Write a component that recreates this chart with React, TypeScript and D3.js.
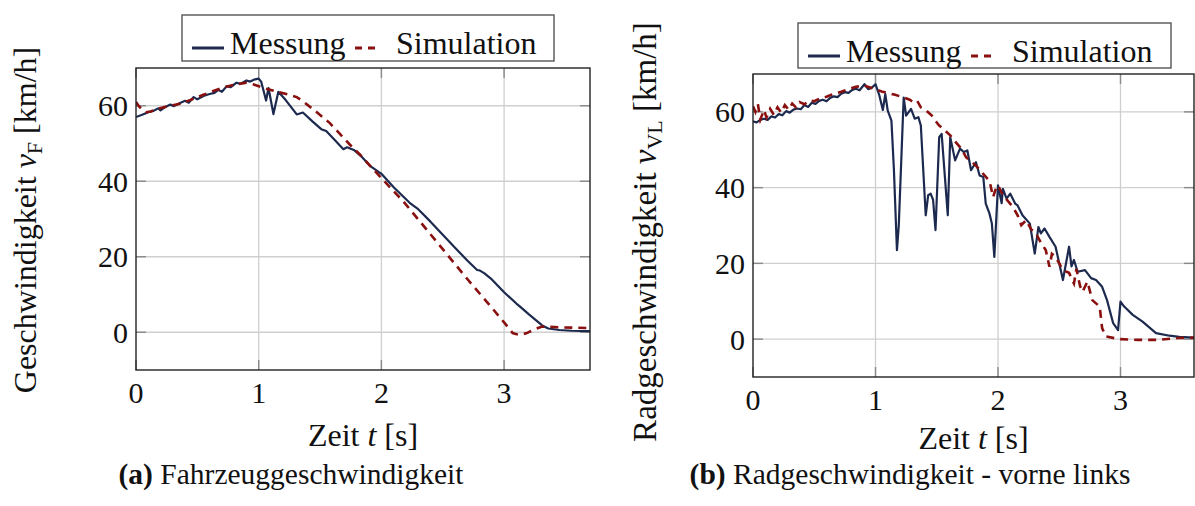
import React from "react";
import * as d3 from "d3";

// ---------- data ----------
const xTicks = [0, 1, 2, 3];
const yTicks = [0, 20, 40, 60];
const legendLabels = ["Messung", "Simulation"];

// (a) Fahrzeuggeschwindigkeit
const tMessA = [0.0,0.05,0.1,0.14,0.18,0.2,0.24,0.28,0.31,0.35,0.4,0.43,0.47,0.5,0.55,0.6,0.64,0.67,0.7,0.74,0.77,0.82,0.85,0.9,0.93,0.97,1.0,1.02,1.06,1.08,1.12,1.16,1.22,1.31,1.36,1.44,1.51,1.55,1.62,1.69,1.72,1.78,1.83,1.91,1.98,2.0,2.1,2.23,2.3,2.4,2.5,2.6,2.7,2.78,2.8,2.84,2.9,3.0,3.1,3.13,3.2,3.31,3.36,3.45,3.55,3.7];
const vMessA = [57.0,57.6,58.3,58.6,59.3,58.8,59.7,60.3,59.9,60.6,61.3,60.8,62.3,61.7,62.6,63.1,63.4,64.2,63.7,65.2,64.9,66.1,65.8,66.7,66.4,67.0,67.2,66.4,61.4,64.7,57.8,63.7,61.5,57.7,58.2,55.8,53.8,53.3,50.9,48.5,49.0,48.2,46.8,44.0,42.4,42.0,38.4,34.3,32.6,29.3,25.8,22.4,19.0,16.5,16.4,15.6,14.0,10.6,7.6,6.8,4.8,1.8,1.0,0.6,0.4,0.3];
const tSimA = [0.0,0.02,0.05,0.08,0.12,0.18,0.25,0.36,0.45,0.55,0.63,0.72,0.8,0.9,0.96,1.05,1.15,1.25,1.31,1.36,1.45,1.58,1.66,1.74,1.83,1.91,2.07,2.18,2.3,2.5,2.7,2.9,3.0,3.07,3.12,3.18,3.25,3.31,3.46,3.7];
const vSimA = [61.0,60.0,59.0,58.3,58.5,59.2,59.8,60.5,61.6,62.9,63.9,64.9,65.6,66.1,65.6,64.6,63.7,62.9,62.3,61.2,58.9,55.4,52.6,49.8,46.9,44.0,38.4,34.6,29.9,22.0,14.1,6.5,2.6,-0.2,-0.7,-0.3,0.8,1.5,1.3,1.1];

// (b) Radgeschwindigkeit vorne links
const tMessB = [0.0,0.03,0.06,0.09,0.12,0.15,0.18,0.21,0.24,0.27,0.3,0.33,0.36,0.39,0.42,0.45,0.48,0.51,0.54,0.57,0.6,0.63,0.66,0.69,0.72,0.75,0.78,0.81,0.84,0.87,0.91,0.94,0.97,1.0,1.03,1.06,1.08,1.1,1.13,1.15,1.175,1.19,1.23,1.25,1.29,1.32,1.35,1.37,1.41,1.43,1.45,1.47,1.49,1.52,1.54,1.59,1.61,1.65,1.69,1.72,1.75,1.78,1.82,1.85,1.88,1.9,1.93,1.95,1.97,2.0,2.03,2.04,2.07,2.1,2.14,2.16,2.2,2.26,2.3,2.33,2.35,2.38,2.42,2.47,2.53,2.58,2.6,2.62,2.65,2.71,2.76,2.8,2.85,2.89,2.94,2.98,3.0,3.03,3.1,3.18,3.29,3.4,3.48,3.6];
const vMessB = [57.5,57.2,57.9,58.2,57.9,58.8,58.5,59.4,59.1,60.2,59.8,60.6,60.9,60.7,61.8,61.3,62.4,62.1,62.9,63.2,62.8,63.7,64.1,63.9,64.8,65.2,65.0,65.8,66.1,65.7,67.3,66.0,66.4,67.3,64.5,60.5,64.7,60.3,57.7,45.0,23.5,30.0,63.8,59.0,60.8,58.2,58.6,56.4,32.7,38.0,38.4,36.8,28.8,53.3,54.2,32.7,53.3,47.2,50.3,49.4,49.8,44.6,46.7,43.2,42.8,35.8,33.2,30.5,21.7,40.6,35.9,39.7,37.1,38.4,35.8,35.3,32.7,30.5,22.6,29.6,27.9,29.2,27.0,24.4,15.6,24.4,19.2,20.9,17.8,18.2,16.1,15.6,13.8,10.3,4.2,2.4,9.9,8.6,6.4,4.6,1.6,0.9,0.6,0.4];
const tSimB = [0.0,0.02,0.04,0.06,0.09,0.11,0.14,0.17,0.2,0.23,0.26,0.29,0.32,0.35,0.38,0.42,0.46,0.5,0.55,0.6,0.66,0.72,0.78,0.84,0.9,0.95,1.0,1.05,1.1,1.16,1.23,1.28,1.31,1.34,1.37,1.41,1.46,1.5,1.52,1.57,1.61,1.66,1.7,1.74,1.78,1.82,1.87,1.91,1.93,1.96,1.98,2.0,2.04,2.08,2.12,2.16,2.19,2.23,2.27,2.31,2.35,2.39,2.42,2.44,2.47,2.53,2.58,2.62,2.64,2.67,2.69,2.73,2.77,2.83,2.85,2.88,2.99,3.15,3.3,3.48,3.6];
const vSimB = [61.5,60.0,62.0,58.0,60.5,58.5,60.8,59.2,61.2,59.8,61.8,60.6,62.2,61.2,62.6,62.0,63.0,62.8,63.6,64.0,64.8,65.3,66.0,66.6,67.0,66.5,66.0,65.4,65.0,64.5,63.8,63.2,62.5,62.9,61.2,60.5,59.0,57.2,56.4,55.0,53.8,51.8,50.3,48.0,47.0,45.8,44.0,42.5,41.9,37.5,39.5,40.6,38.0,36.5,35.0,32.7,30.1,31.4,29.0,27.9,25.5,23.5,19.1,22.5,21.7,18.2,17.5,14.7,18.5,14.0,12.5,15.2,10.3,8.6,2.9,0.7,0.0,-0.2,-0.2,0.3,0.4];

const MESS_COLOR = "#1d2a4f";
const SIM_COLOR = "#8a1010";
const FONT = "Liberation Serif, DejaVu Serif, serif";

type Panel = {
  left: number; top: number; right: number; bottom: number;
  xMax: number;
  tMess: number[]; vMess: number[]; tSim: number[]; vSim: number[];
  legend: { x: number; y: number; w: number; h: number };
  yLabelMain: string; yLabelSub: string; yLabelX: number; yLabelY: number; yLabelSize: number;
  xLabelY: number;
  captionTag: string; captionText: string; captionX: number;
};

const panels: Panel[] = [
  {
    left: 136, top: 68, right: 590, bottom: 370, xMax: 3.7,
    tMess: tMessA, vMess: vMessA, tSim: tSimA, vSim: vSimA,
    legend: { x: 182, y: 15, w: 372, h: 46 },
    yLabelMain: "Geschwindigkeit ", yLabelSub: "F", yLabelX: 36, yLabelY: 220, yLabelSize: 32,
    xLabelY: 446,
    captionTag: "(a)", captionText: " Fahrzeuggeschwindigkeit", captionX: 291,
  },
  {
    left: 753, top: 74, right: 1194, bottom: 377, xMax: 3.6,
    tMess: tMessB, vMess: vMessB, tSim: tSimB, vSim: vSimB,
    legend: { x: 798, y: 23, w: 373, h: 45 },
    yLabelMain: "Radgeschwindigkeit ", yLabelSub: "VL", yLabelX: 656, yLabelY: 232, yLabelSize: 33,
    xLabelY: 449,
    captionTag: "(b)", captionText: " Radgeschwindigkeit - vorne links", captionX: 910,
  },
];

function Chart({ p }: { p: Panel }) {
  const x = d3.scaleLinear().domain([0, p.xMax]).range([p.left, p.right]);
  const y = d3.scaleLinear().domain([-10, 70]).range([p.bottom, p.top]);
  const line = d3.line<[number, number]>().x((d) => x(d[0])).y((d) => y(d[1]));
  const mess = line(p.tMess.map((t, i) => [t, p.vMess[i]] as [number, number])) || "";
  const sim = line(p.tSim.map((t, i) => [t, p.vSim[i]] as [number, number])) || "";
  const clipId = `clip-${p.left}`;
  const tickLen = 10;
  const L = p.legend;
  return (
    <g>
      <defs>
        <clipPath id={clipId}>
          <rect x={p.left} y={p.top} width={p.right - p.left} height={p.bottom - p.top} />
        </clipPath>
      </defs>
      {xTicks.filter((t) => t > 0).map((t) => (
        <line key={"gx" + t} x1={x(t)} x2={x(t)} y1={p.top} y2={p.bottom} stroke="#cfcfcf" strokeWidth={1.3} />
      ))}
      {yTicks.map((v) => (
        <line key={"gy" + v} x1={p.left} x2={p.right} y1={y(v)} y2={y(v)} stroke="#cfcfcf" strokeWidth={1.3} />
      ))}
      {xTicks.map((t) => (
        <g key={"tx" + t} stroke="#8a8a8a" strokeWidth={1.4}>
          <line x1={x(t)} x2={x(t)} y1={p.bottom} y2={p.bottom - tickLen} />
          <line x1={x(t)} x2={x(t)} y1={p.top} y2={p.top + tickLen} />
        </g>
      ))}
      {yTicks.map((v) => (
        <g key={"ty" + v} stroke="#8a8a8a" strokeWidth={1.4}>
          <line x1={p.left} x2={p.left + tickLen} y1={y(v)} y2={y(v)} />
          <line x1={p.right} x2={p.right - tickLen} y1={y(v)} y2={y(v)} />
        </g>
      ))}
      <g clipPath={`url(#${clipId})`}>
        <path d={mess} fill="none" stroke={MESS_COLOR} strokeWidth={2.2} strokeLinejoin="round" />
        <path d={sim} fill="none" stroke={SIM_COLOR} strokeWidth={2.6} strokeDasharray="8 6" />
      </g>
      <rect x={p.left} y={p.top} width={p.right - p.left} height={p.bottom - p.top} fill="none" stroke="#222" strokeWidth={1.4} />
      {xTicks.map((t) => (
        <text key={"lx" + t} x={x(t)} y={p.bottom + 33} textAnchor="middle" fontSize={30} fontFamily={FONT} fill="#111">{t}</text>
      ))}
      {yTicks.map((v) => (
        <text key={"ly" + v} x={p.left - 8} y={y(v)} dy="0.35em" textAnchor="end" fontSize={30} fontFamily={FONT} fill="#111">{v}</text>
      ))}
      <text x={(p.left + p.right) / 2} y={p.xLabelY} textAnchor="middle" fontSize={32} fontFamily={FONT} fill="#111">
        Zeit <tspan fontStyle="italic">t</tspan> [s]
      </text>
      <text transform={`translate(${p.yLabelX},${p.yLabelY}) rotate(-90)`} textAnchor="middle" fontSize={p.yLabelSize} fontFamily={FONT} fill="#111">
        {p.yLabelMain}
        <tspan fontStyle="italic">v</tspan>
        <tspan fontSize={22} dy={6}>{p.yLabelSub}</tspan>
        <tspan dy={-6}> [km/h]</tspan>
      </text>
      <rect x={L.x} y={L.y} width={L.w} height={L.h} fill="#fff" stroke="#555" strokeWidth={1.4} />
      <line x1={L.x + 10} x2={L.x + 42} y1={L.y + 33} y2={L.y + 33} stroke={MESS_COLOR} strokeWidth={3} />
      <text x={L.x + 48} y={L.y + 39} fontSize={32} fontFamily={FONT} fill="#111">{legendLabels[0]}</text>
      <line x1={L.x + 173} x2={L.x + 193} y1={L.y + 33} y2={L.y + 33} stroke={SIM_COLOR} strokeWidth={3} strokeDasharray="7 6" />
      <text x={L.x + 214} y={L.y + 39} fontSize={32} fontFamily={FONT} fill="#111">{legendLabels[1]}</text>
      <text x={p.captionX} y={484} textAnchor="middle" fontSize={29.5} fontFamily={FONT} fill="#111">
        <tspan fontWeight="bold">{p.captionTag}</tspan>
        {p.captionText}
      </text>
    </g>
  );
}

export default function App() {
  return (
    <svg width={1195} height={506} style={{ position: "absolute", left: 0, top: 0, background: "#fff" }}>
      <rect width={1195} height={506} fill="#fff" />
      {panels.map((p, i) => (
        <Chart key={i} p={p} />
      ))}
    </svg>
  );
}
